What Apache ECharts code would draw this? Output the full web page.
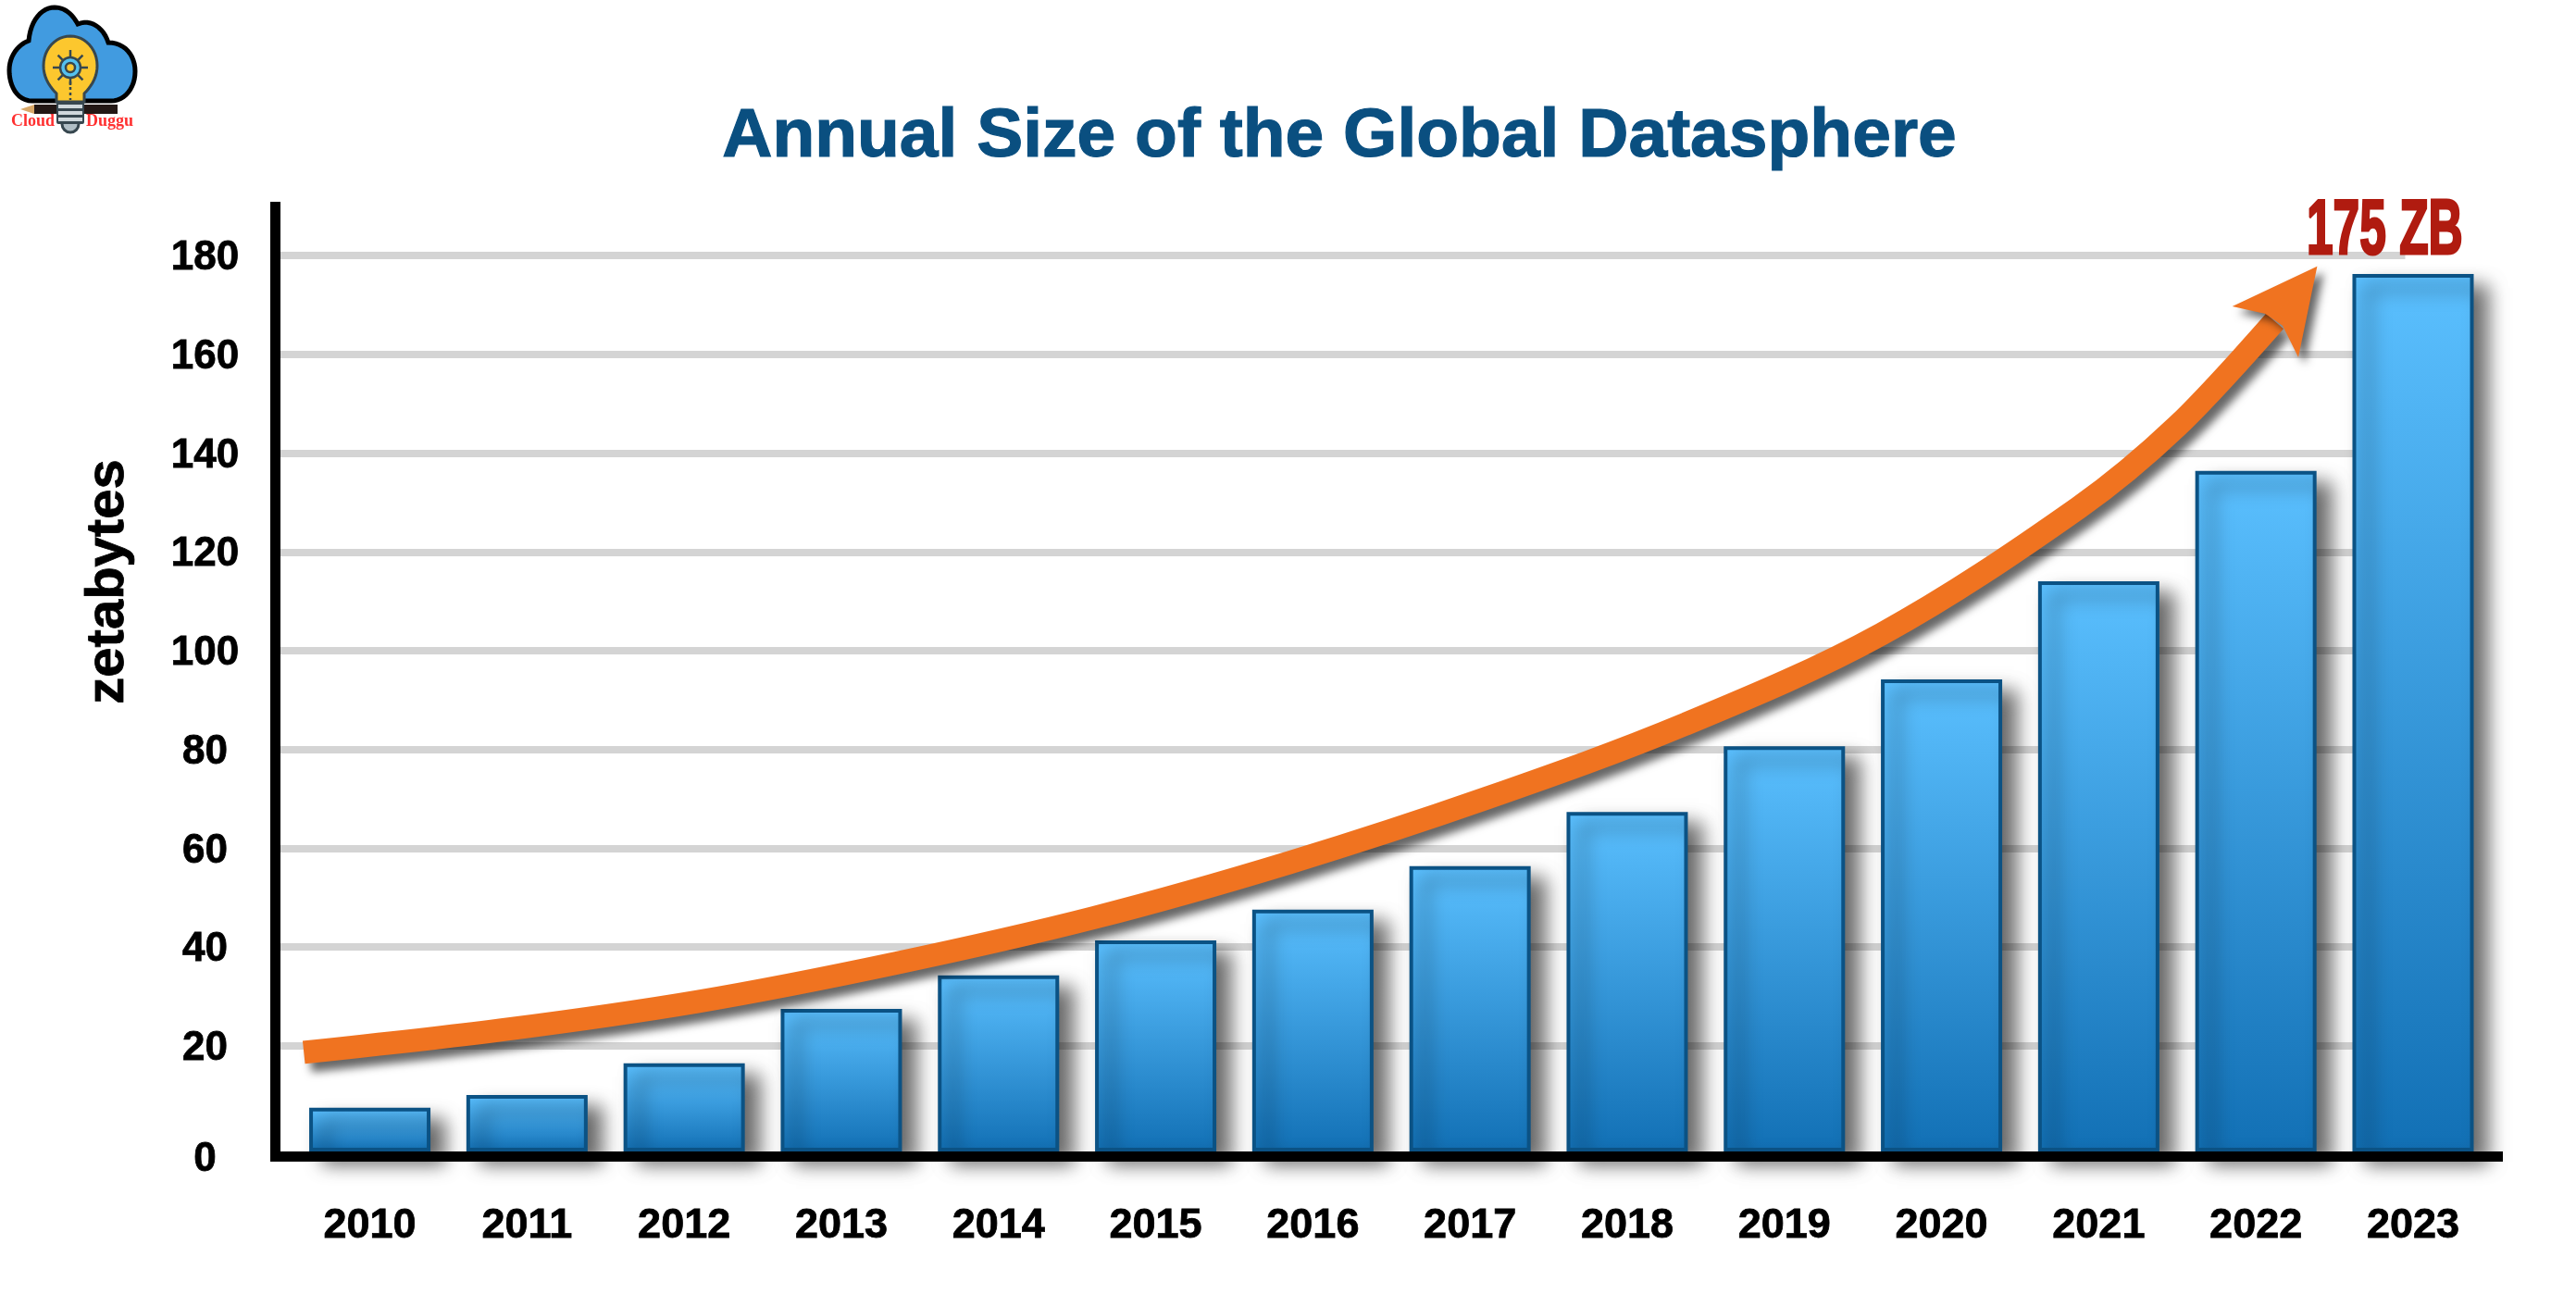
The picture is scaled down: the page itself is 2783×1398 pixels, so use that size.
<!DOCTYPE html>
<html lang="en">
<head>
    <meta charset="UTF-8">
    <title>Annual Size of the Global Datasphere</title>
    <script src="https://cdn.jsdelivr.net/npm/echarts@6/dist/echarts.min.js"></script>
    <style>
        html, body { margin: 0; padding: 0; background: #fff; }
        #chart { width: 2783px; height: 1398px; }
    </style>
</head>
<body>
<div id="chart"></div>
<script>
    // values
    const years = [2010, 2011, 2012, 2013, 2014, 2015, 2016, 2017, 2018, 2019, 2020, 2021, 2022, 2023];
    const zetabytes = [7.1, 9.7, 16.1, 27.1, 33.9, 41.0, 47.2, 56.0, 67.0, 80.3, 93.8, 113.7, 136.0, 175.9];
    const yTicks = [0, 20, 40, 60, 80, 100, 120, 140, 160, 180];
    const gridValues = [20, 40, 60, 80, 100, 120, 140, 160, 180];

    // the orange trend arrow, in axis units (year, zetabytes)
    const arrowYears = [2009.58, 2010.83, 2012.09, 2013.34, 2014.60, 2015.85, 2017.11, 2018.36, 2019.62, 2020.87, 2021.50, 2022.12];
    const arrowValues = [18.7, 23.2, 29.0, 36.7, 45.9, 57.1, 70.2, 85.0, 103.4, 128.9, 145.5, 166.7];
    const headYears = [2022.39, 2021.85, 2022.06, 2022.17, 2022.27];
    const headValues = [177.8, 169.7, 168.2, 165.8, 159.4];

    const xMin = 2009.399, xMax = 2023.539, gridEnd = 2022.95;
    const yMin = -2.39, yMax = 189.84, barFloor = -1.0;

    const font = '"Liberation Sans", Arial, sans-serif';
    const slate = '#37474f';
    const barWidth = 127;

    // graphic has no path type, so curves are flattened to polygon points
    function flatten(start, curves) {
        const pts = [start];
        let p0 = start;
        curves.forEach(c => {
            for (let k = 1; k <= 12; k++) {
                const t = k / 12, u = 1 - t;
                pts.push([
                    u * u * u * p0[0] + 3 * u * u * t * c[0] + 3 * u * t * t * c[2] + t * t * t * c[4],
                    u * u * u * p0[1] + 3 * u * u * t * c[1] + 3 * u * t * t * c[3] + t * t * t * c[5]
                ]);
            }
            p0 = [c[4], c[5]];
        });
        return pts;
    }
    const cloudPoints = flatten([35, 109], [
        [18, 109, 10, 92, 10, 76], [10, 60, 20, 48, 31, 44], [33, 22, 45, 8, 59, 8],
        [70, 8, 78, 15, 84, 26], [98, 20, 112, 30, 117, 46], [135, 46, 146, 60, 146, 77],
        [146, 95, 135, 109, 120, 109]
    ]);
    const bulbPoints = [[61, 110]].concat(flatten([61, 101], [
        [55, 95, 47, 85, 47, 71], [47, 53, 60, 39, 76, 39], [92, 39, 105, 53, 105, 71], [105, 85, 97, 95, 91, 101]
    ]), [[91, 110]]);

    // small logo in the top left corner
    const spokes = [];
    for (let i = 0; i < 8; i++) {
        const a = i * Math.PI / 4;
        spokes.push({
            type: 'line',
            shape: {
                x1: 76 + 12 * Math.cos(a), y1: 73 + 12 * Math.sin(a),
                x2: 76 + 19 * Math.cos(a), y2: 73 + 19 * Math.sin(a)
            },
            style: {stroke: slate, lineWidth: 2.5}
        });
    }
    const logo = {
        type: 'group',
        children: [
            {type: 'polygon', shape: {points: cloudPoints}, style: {fill: '#419be0', stroke: '#000', lineWidth: 5}},
            {type: 'rect', shape: {x: 37, y: 113, width: 90, height: 10}, style: {fill: '#231815'}},
            {type: 'polygon', shape: {points: [[22, 118], [37, 113], [37, 123]]}, style: {fill: '#d9a868'}},
            {type: 'polygon', shape: {points: bulbPoints}, style: {fill: '#fcc72e', stroke: slate, lineWidth: 3}},
            ...spokes,
            {type: 'circle', shape: {cx: 76, cy: 73, r: 11}, style: {fill: '#54c1f0', stroke: slate, lineWidth: 2.5}},
            {type: 'circle', shape: {cx: 76, cy: 73, r: 5}, style: {fill: '#fcc72e', stroke: slate, lineWidth: 2.5}},
            {type: 'line', shape: {x1: 76, y1: 88, x2: 76, y2: 108}, style: {stroke: slate, lineWidth: 2.5, lineDash: [3, 3]}},
            {type: 'circle', shape: {cx: 76, cy: 134, r: 9}, style: {fill: '#b0bec5', stroke: slate, lineWidth: 3}},
            {type: 'rect', shape: {x: 61, y: 110, width: 30, height: 24, r: 2}, style: {fill: slate}},
            {type: 'rect', shape: {x: 63, y: 113, width: 26, height: 4}, style: {fill: '#cfd8dc'}},
            {type: 'rect', shape: {x: 63, y: 120, width: 26, height: 4}, style: {fill: '#cfd8dc'}},
            {type: 'rect', shape: {x: 63, y: 127, width: 26, height: 4}, style: {fill: '#cfd8dc'}},
            {
                type: 'text', x: 12, y: 122,
                style: {text: 'Cloud', fill: '#ff3030', font: 'bold 18px "Liberation Serif", serif'}
            },
            {
                type: 'text', x: 93, y: 122,
                style: {text: 'Duggu', fill: '#ff3030', font: 'bold 18px "Liberation Serif", serif'}
            }
        ]
    };

    const barFill = new echarts.graphic.LinearGradient(0, 0, 0, 1, [
        {offset: 0, color: '#5bc0ff'},
        {offset: 1, color: '#1270b5'}
    ]);

    const chart = echarts.init(document.getElementById('chart'));
    chart.setOption({
        animation: false,
        backgroundColor: '#fff',
        title: {
            text: 'Annual Size of the Global Datasphere',
            left: 1442,
            top: 106,
            textAlign: 'center',
            textStyle: {
                color: '#0a4f80',
                fontFamily: font,
                fontWeight: 'bold',
                fontSize: 75,
                textBorderColor: '#0a4f80',
                textBorderWidth: 1.2
            }
        },
        grid: {left: 297.5, right: 84.5, top: 223.5, bottom: 148.5, containLabel: false},
        xAxis: {
            type: 'value',
            min: xMin,
            max: xMax,
            z: 3,
            splitLine: {show: false},
            axisTick: {show: false},
            axisLine: {show: true, onZero: false, lineStyle: {color: '#000', width: 11, cap: 'square'}},
            axisLabel: {
                customValues: years,
                margin: 53,
                color: '#000',
                fontFamily: font,
                fontWeight: 'bold',
                fontSize: 45,
                textBorderColor: '#000',
                textBorderWidth: 0.8,
                formatter: v => String(v)
            }
        },
        yAxis: {
            type: 'value',
            min: yMin,
            max: yMax,
            z: 3,
            name: 'zetabytes',
            nameLocation: 'middle',
            nameGap: 152,
            nameRotate: 90,
            nameTextStyle: {
                color: '#000',
                fontFamily: font,
                fontWeight: 'bold',
                fontSize: 58,
                textBorderColor: '#000',
                textBorderWidth: 0.8,
                padding: [0, 0, 0, 216]
            },
            splitLine: {show: false},
            axisTick: {show: false},
            axisLine: {show: true, onZero: false, lineStyle: {color: '#000', width: 11, cap: 'square'}},
            axisLabel: {
                customValues: yTicks,
                margin: 76,
                align: 'center',
                padding: [6, 0, 0, 0],
                color: '#000',
                fontFamily: font,
                fontWeight: 'bold',
                fontSize: 44,
                textBorderColor: '#000',
                textBorderWidth: 0.8,
                // the zero label sits lower than its tick in the original
                formatter: v => (v === 0 ? '{zero|0}' : String(v)),
                rich: {
                    zero: {
                        color: '#000',
                        fontFamily: font,
                        fontWeight: 'bold',
                        fontSize: 44,
                        textBorderColor: '#000',
                        textBorderWidth: 0.8,
                        padding: [26, 0, 0, 0]
                    }
                }
            }
        },
        series: [
            {
                // bars run down to the axis line, a little below the zero of the scale
                type: 'custom',
                z: 2,
                encode: {x: 0, y: 1},
                data: years.map((y, i) => [y, zetabytes[i]]),
                renderItem: (params, api) => {
                    const top = api.coord([api.value(0), api.value(1)]);
                    const bottom = api.coord([api.value(0), barFloor]);
                    return {
                        type: 'rect',
                        shape: {x: top[0] - barWidth / 2, y: top[1], width: barWidth, height: bottom[1] - top[1]},
                        style: {
                            fill: barFill,
                            stroke: '#0b5284',
                            lineWidth: 4,
                            shadowColor: 'rgba(0,0,0,0.6)',
                            shadowBlur: 20,
                            shadowOffsetX: 15,
                            shadowOffsetY: 13
                        }
                    };
                },
                markLine: {
                    silent: true,
                    z: 1,
                    symbol: 'none',
                    label: {show: false},
                    lineStyle: {color: '#d4d4d4', width: 8, type: 'solid'},
                    data: gridValues.map(v => [{coord: [xMin, v]}, {coord: [gridEnd, v]}])
                }
            },
            {
                type: 'line',
                z: 4,
                smooth: 0.34,
                symbol: 'none',
                clip: false,
                data: arrowYears.map((y, i) => [y, arrowValues[i]]),
                lineStyle: {
                    color: '#f07320',
                    width: 25,
                    cap: 'butt',
                    shadowColor: 'rgba(0,0,0,0.6)',
                    shadowBlur: 10,
                    shadowOffsetX: 7,
                    shadowOffsetY: 9
                }
            },
            {
                type: 'custom',
                z: 5,
                clip: false,
                data: [[headYears[0], headValues[0]]],
                renderItem: (params, api) => ({
                    type: 'polygon',
                    shape: {points: headYears.map((y, i) => api.coord([y, headValues[i]]))},
                    style: {
                        fill: '#f07320',
                        shadowColor: 'rgba(0,0,0,0.6)',
                        shadowBlur: 10,
                        shadowOffsetX: 7,
                        shadowOffsetY: 7
                    }
                })
            }
        ],
        graphic: [
            logo,
            {
                type: 'text',
                z: 10,
                x: 2492,
                y: 210,
                scaleX: 0.62,
                style: {
                    text: '175 ZB',
                    fill: '#b01b10',
                    stroke: '#b01b10',
                    lineWidth: 3,
                    font: 'bold 83px "Liberation Sans Narrow", "Liberation Sans", sans-serif',
                    shadowColor: 'rgba(0,0,0,0.6)',
                    shadowBlur: 6,
                    shadowOffsetX: 5,
                    shadowOffsetY: 6
                }
            }
        ]
    });
</script>
</body>
</html>
